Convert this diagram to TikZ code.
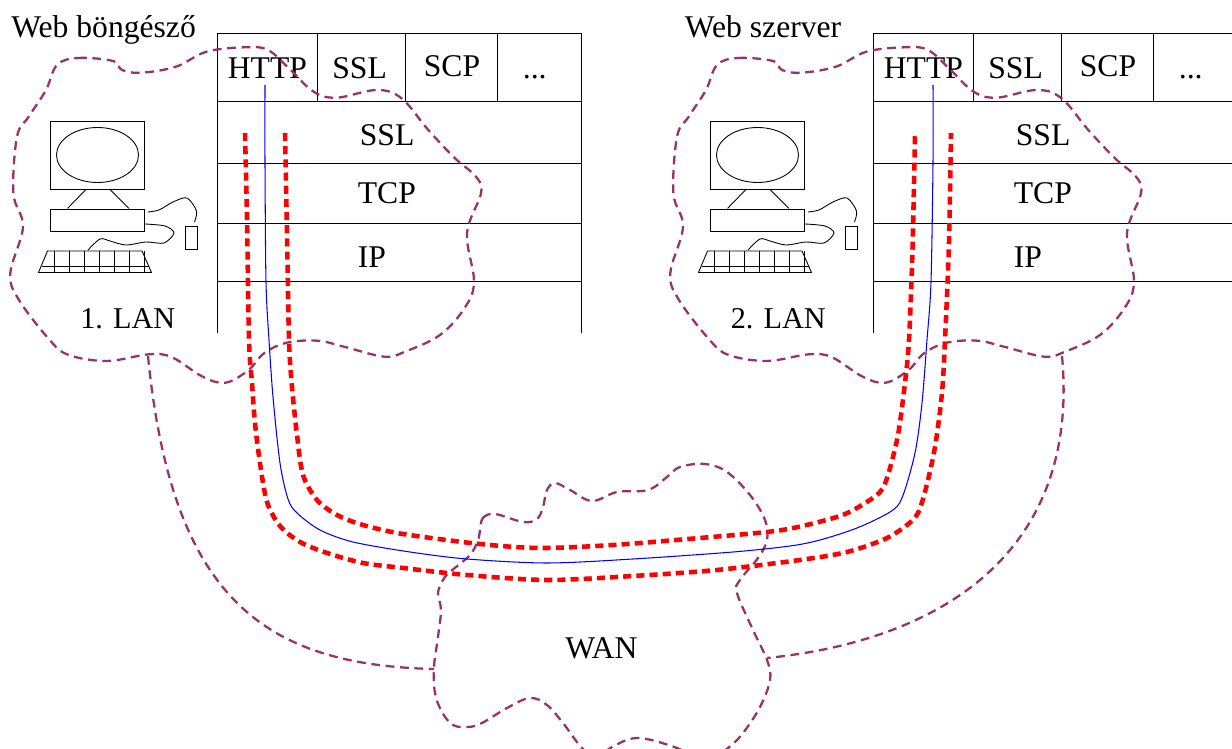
\documentclass[tikz,border=0pt]{standalone}
\usepackage{fontspec}
\setmainfont{Liberation Serif}
\usepackage{xcolor}
\definecolor{mplum}{HTML}{993366}
\definecolor{mred}{HTML}{FF0000}
\definecolor{mblue}{HTML}{0000FF}
\tikzstyle{lbl}=[anchor=base west, inner sep=0pt, font=\fontsize{18}{22}\selectfont]
\tikzstyle{lanlbl}=[lbl, font=\fontsize{17.2}{21}\selectfont]
\tikzstyle{l1}=[line width=0.5pt]
\tikzstyle{box}=[rectangle, draw=black, l1, inner sep=0pt]
\tikzstyle{cloud}=[color=mplum, line width=1.3pt, dash pattern=on 5pt off 3.2pt]
\tikzstyle{tunnel}=[color=mred, line width=2.6pt, dash pattern=on 4.6pt off 2.9pt]
\tikzstyle{flow}=[color=mblue, line width=0.6pt]
% protocol table, the right one runs off the page
\newcommand{\drawstack}{
    \draw[l1] (217,333) -- (217,33) -- (581,33) -- (581,333);
    \draw[l1] (217,101) -- (581,101) (217,163) -- (581,163) (217,223) -- (581,223) (217,281) -- (581,281);
    \draw[l1] (317,33) -- (317,101) (405,33) -- (405,101) (497,33) -- (497,101);
    \node (http) [lbl] at (227.5,78.5) {HTTP};
    \node (ssla) [lbl] at (332,78.5) {SSL};
    \node (scp) [lbl] at (423.5,76.5) {SCP};
    \node (dots) [lbl] at (522.5,79) {...};
    \node (sslb) [lbl] at (359.5,146) {SSL};
    \node (tcp) [lbl] at (357.5,204) {TCP};
    \node (ip) [lbl] at (357.5,267.5) {IP};
}
% computer with its LAN cloud
\newcommand{\drawhost}{
    \node (mon) [box, minimum width=1.89cm, minimum height=1.36cm] at (97.5,155) {};
    \draw[l1] (97.5,155) ellipse (41 and 27.5);
    \node (case) [box, minimum width=1.89cm, minimum height=0.44cm] at (97.5,220) {};
    \node (mouse) [box, minimum width=0.24cm, minimum height=0.45cm] at (191,238) {};
    \draw[l1] (mon.south) ++(-11.5,0) -- ++(-18.5,19) (mon.south) ++(12.5,0) -- ++(19,19);
    \draw[l1] plot[smooth] coordinates {(148,212) (159,210) (173,202) (187,198) (196.5,211) (194.5,222)};
    \draw[l1] plot[smooth] coordinates {(145,224) (165,226) (174,233) (164,243) (146,242) (126,245) (110,241) (100,239) (88,250)};
    \draw[l1] (47.5,251) -- (142,251) -- (151.5,272.5) -- (38.5,272.5) -- cycle (42,266.5) -- (148.5,266.5);
    \draw[l1] (54,251) -- (54,272.5) (69,251) -- (69,272.5) (84,251) -- (84,272.5) (99,251) -- (99,272.5)
        (114.5,251) -- (114.5,272.5) (129,251) -- (129,272.5) (144.5,251) -- (144.5,272.5);
    \draw[cloud] plot[smooth cycle, tension=0.6] coordinates {(57,65) (78,58) (113,61) (122,70) (141.5,72.7) (176,66.7) (206.5,51.7) (245,47.3)
        (268,50) (290.6,70) (313.6,91.7) (336.5,97.7) (376.7,90) (401.5,98.3) (428.3,130) (455,158.3) (476,176.7) (481,193.3)
        (467,233) (474,281.7) (464.6,308) (440,335) (405,351.7) (384.3,356.7) (344,346.7) (317.4,340.7) (286.8,342.7) (264,353.3)
        (248.6,370) (225.6,382.7) (202.7,376.7) (172,357.3) (149,354.3) (107,361) (68.8,355) (49.7,340) (19,300) (10.3,273.3)
        (23,226.7) (13.4,193.3) (17,136.7) (28.7,116.7) (46,90)};
}
\begin{document}
\begin{tikzpicture}[x=0.02cm, y=-0.02cm]
    \path[use as bounding box, clip] (0,0) rectangle (1232,749);
    \drawstack
    \drawhost
    \node (lan1) [lanlbl] at (80,328.5) {1. LAN};
    \node (browser) [lbl] at (11,37.5) {Web böngésző};

    \begin{scope}[shift={(656,0)}]
    \drawstack
    \end{scope}
    \begin{scope}[shift={(660,0)}]
    \drawhost
    \end{scope}
    \node (lan2) [lanlbl] at (730.5,328.5) {2. LAN};
    \node (server) [lbl] at (684.5,37.5) {Web szerver};

    \node (wan) [lbl] at (565,659) {WAN};
    \draw[cloud] plot[smooth cycle, tension=0.6] coordinates {(480,530) (483,518) (495,514) (523,522) (537,519) (543,507) (547,490) (555,483)
        (570,490) (592,501) (617,492) (648,490) (667,477) (680,467) (705,464) (727,472) (750,495) (765,520) (767,540) (758,558)
        (740,580) (737,593) (753,630) (767,660) (770,680) (760,707) (743,733) (728,748) (705,762) (677,748) (638,738) (612,747)
        (597,757) (582,748) (563,723) (547,705) (530,698) (507,708) (482,723) (468,727) (453,725) (442,712) (435,693) (434,667)
        (438,637) (441,610) (438,593) (443,580) (450,572) (470,555) (478,540)};

    \coordinate (p1) at (148,356);
    \coordinate (w1) at (434,669);
    \coordinate (p2) at (1062,356);
    \coordinate (w2) at (767,658);
    \draw[cloud] (p1) .. controls (172,600) and (265,665) .. (w1);
    \draw[cloud] (p2) .. controls (1080,550) and (945,640) .. (w2);

    \coordinate (ao) at (245,133);
    \coordinate (bo) at (951,133);
    \coordinate (ai) at (285,133);
    \coordinate (bi) at (915,133);
    \coordinate (af) at (265,85);
    \coordinate (bf) at (933,85);
    \draw[tunnel] plot[smooth] coordinates {(ao) (247,217) (249,340) (252,383) (255,423) (260,463) (267,502) (280,526) (300,542) (327,553)
        (363,563) (403,568) (467,575) (547,580) (633,576) (717,570) (800,560) (847,552) (885,539) (907,525) (918,513) (926,488)
        (935,447) (942,393) (945,340) (949,243) (bo)};
    \draw[tunnel] plot[smooth] coordinates {(ai) (287,233) (289,340) (292,387) (297,435) (303,475) (317,500) (337,515) (363,525) (403,534)
        (480,544) (540,548) (613,545) (700,538) (767,532) (798,527) (840,516) (862,505) (880,492) (888,475) (898,435) (905,383)
        (909,340) (912.5,250) (bi)};
    \draw[flow] plot[smooth] coordinates {(af) (265,163) (266,282) (269,340) (273,397) (280,463) (288,499) (297,513) (320,530) (353,542)
        (410,552) (467,559) (547,563) (633,559) (733,552) (790,546) (820,540) (857,528) (890,512) (902,498) (915,453) (922,403)
        (927,340) (931,282) (933,163) (bf)};
\end{tikzpicture}
\end{document}
